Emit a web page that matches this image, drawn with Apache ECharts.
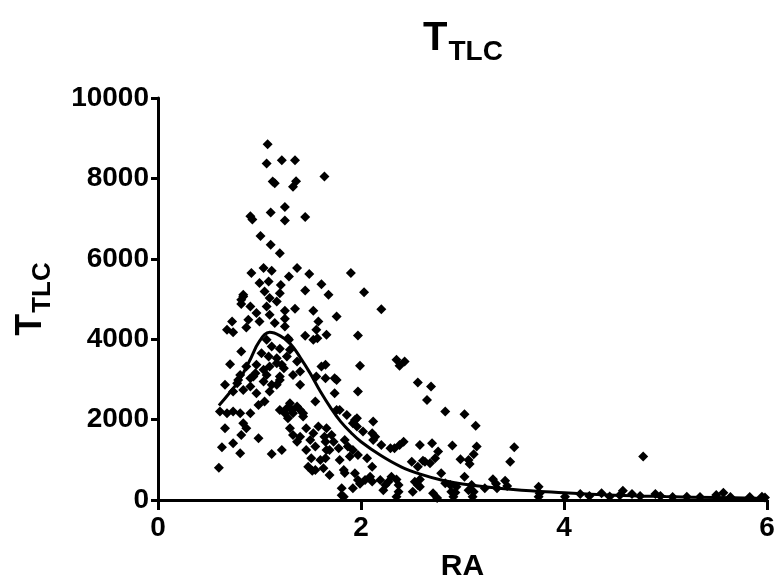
<!DOCTYPE html>
<html><head><meta charset="utf-8">
<script src="https://cdn.jsdelivr.net/npm/echarts@6/dist/echarts.min.js"></script>
<style>html,body{margin:0;padding:0;background:#fff}#c{width:775px;height:583px}</style>
</head><body><div id="c"></div>
<script>
const FONT = "'Liberation Sans Narrow','Liberation Sans',Arial,sans-serif";
const xTicks = [0, 2, 4, 6];
const yTicks = [0, 2000, 4000, 6000, 8000, 10000];
const raValues = [
1.08,1.07,1.22,1.35,1.64,1.13,1.15,1.36,1.33,1.25,0.91,0.93,1.11,1.25,1.45,1.01,1.11,1.20,
0.92,1.04,1.12,1.37,1.49,1.29,1.00,1.09,1.21,1.61,1.05,1.20,1.45,0.84,1.10,1.17,0.82,0.91,1.07,1.35,1.53,0.97,1.10,1.25,0.89,1.00,1.25,1.15,1.58,0.73,0.87,1.25,1.56,0.68,0.74,1.45,1.57,1.66,0.82,1.20,1.27,0.71,1.22,1.65,
1.90,2.03,2.20,1.97,1.76,1.99,2.35,1.68,1.53,1.28,0.84,0.82,
1.07,1.12,1.02,1.09,1.17,1.29,1.30,
0.87,0.97,1.04,1.10,1.17,1.24,1.37,0.81,0.94,1.07,1.20,1.33,1.40,0.78,0.91,1.04,1.17,0.66,0.74,0.84,0.97,1.10,
0.79,0.91,0.96,1.12,1.20,1.40,1.56,
0.61,0.68,0.74,0.81,0.91,0.99,1.05,1.30,1.37,1.25,1.28,1.33,1.40,1.43,1.55,0.66,0.84,0.87,0.99,0.82,0.74,0.63,0.81,1.12,1.22,0.60,1.30,1.33,1.40,1.37,1.46,1.53,1.50,1.55,1.46,1.51,1.60,1.48,1.55,1.63,1.66,1.64,1.58,
1.27,1.32,1.20,1.43,
1.61,1.76,1.74,1.76,1.86,1.94,1.96,2.02,2.12,2.14,2.20,
1.65,1.74,1.97,2.56,2.69,2.65,2.83,1.79,1.96,1.92,2.11,2.12,1.66,1.71,1.65,1.73,1.69,1.78,1.84,1.87,1.92,1.89,1.65,1.79,1.97,2.06,2.11,1.69,1.83,1.94,1.97,2.04,2.09,1.92,2.19,2.24,2.27,2.30,1.81,1.83,2.29,2.33,2.38,2.42,2.58,2.70,2.76,2.73,2.50,2.56,2.63,2.68,2.37,2.37,2.35,2.53,2.56,2.51,2.71,2.83,
2.38,2.43,3.02,3.13,2.90,3.14,3.11,3.51,3.47,2.98,3.06,3.07,2.61,2.79,3.02,3.30,3.42,2.58,2.88,2.89,2.91,2.94,3.09,3.11,3.10,3.22,3.34,3.75,3.76,3.75,4.01,
1.52,1.84,1.99,2.11,2.22,2.35,2.58,2.75,2.93,3.06,3.33,3.44,1.81,
4.78,4.37,4.58,4.90,5.21,5.50,5.57,5.95,4.16,4.55,4.67,4.75,4.95,5.07,5.34,5.64,5.83,5.98,4.25,4.45
];
const ttlcValues = [
8850,8370,8450,8450,8050,7920,7880,7930,7790,7290,7060,6980,7150,6950,7040,6570,6350,6140,
5645,5770,5700,5770,5620,5560,5395,5435,5350,5370,5187,5146,5212,5062,5022,4938,4873,4813,4813,4756,4706,4649,4607,4706,4482,4440,4507,4400,4440,4440,4290,4315,4233,4233,4175,4084,4026,4109,3693,3760,3568,3379,3362,3362,
5645,5170,4748,4091,4564,3337,3486,5104,3984,4026,5104,4980,
3984,3817,3652,3568,3527,3984,3735,
3320,3362,3237,3320,3403,3278,3444,3112,3071,3112,3071,3112,3195,2905,2822,2946,2864,2864,2697,2739,2656,2697,
2988,3030,3154,2864,2988,2864,3071,
2199,2158,2199,2158,2158,2365,2448,2407,2324,2158,2034,2158,2241,2075,2448,1785,1910,1785,1536,1618,1411,1312,1163,1145,1245,804,1785,1618,1576,1452,1785,1660,1494,1328,1245,1038,996,830,747,789,1245,1576,1826,
2283,2241,2241,2158,
3320,2988,2656,2241,2117,1992,1826,1701,1950,1576,1370,
3030,3030,2697,2921,2822,2490,2199,2241,2034,1910,1660,1494,1785,1618,1452,1452,1245,1287,1494,1328,1245,1079,1038,996,1120,1038,830,623,747,664,498,498,581,291,498,374,456,581,291,82,1287,1287,1370,1452,1370,1411,1204,1038,954,830,954,913,374,208,82,456,374,208,166,415,
3337,3444,2133,1850,1353,1328,1138,1312,954,1013,996,896,979,664,581,515,481,332,374,208,82,332,374,208,82,291,291,332,166,82,82,
727,672,403,458,241,510,510,50,187,241,403,349,120,
1079,166,232,149,82,124,182,82,150,120,150,100,100,75,75,75,75,60,100,90
];
const curveRA = [0.6,0.7,0.8,0.9,1.0,1.1,1.2,1.3,1.4,1.5,1.6,1.7,1.8,1.9,2.0,2.2,2.4,2.6,2.8,3.0,3.5,4.0,4.5,5.0,5.5,6.0];
const curveTTLC = [2350,2650,2980,3450,3950,4170,4090,3900,3550,3150,2700,2300,1950,1680,1450,1100,820,630,490,400,260,180,120,85,60,40];

const scatterData = raValues.map((x, i) => [x, ttlcValues[i]]);
const curveData = curveRA.map((x, i) => [x, curveTTLC[i]]);

const chart = echarts.init(document.getElementById('c'), null, {renderer: 'canvas'});
const richName = (big, small) => ({
  a: {fontFamily: FONT, fontWeight: 'bold', fontSize: big, color: '#000', padding: [0, 1, 7, 0], verticalAlign: 'bottom'},
  b: {fontFamily: FONT, fontWeight: 'bold', fontSize: small, color: '#000', verticalAlign: 'bottom'}
});
chart.setOption({
  animation: false,
  backgroundColor: '#fff',
  title: {
    text: '{a|T}{b|TLC}',
    left: 418, top: 14,
    textStyle: {rich: richName(40, 28)}
  },
  grid: {left: 158, right: 8, top: 98, bottom: 83, containLabel: false, outerBoundsMode: 'none'},
  xAxis: {
    type: 'value', min: 0, max: 6, interval: 2,
    name: 'RA', nameLocation: 'middle', nameGap: 52,
    nameTextStyle: {fontFamily: FONT, fontWeight: 'bold', fontSize: 30, color: '#000'},
    axisLine: {show: true, onZero: false, lineStyle: {color: '#000', width: 3}},
    axisTick: {show: true, length: 10, lineStyle: {color: '#000', width: 3}},
    axisLabel: {fontFamily: FONT, fontWeight: 'bold', fontSize: 28, color: '#000', margin: 14,
      formatter: v => xTicks.includes(v) ? String(v) : ''},
    splitLine: {show: false}
  },
  yAxis: {
    type: 'value', min: 0, max: 10000, interval: 2000,
    name: '{a|T}{b|TLC}', nameLocation: 'middle', nameRotate: 90, nameGap: 102,
    nameTextStyle: {rich: richName(36, 26)},
    axisLine: {show: true, onZero: false, lineStyle: {color: '#000', width: 3}},
    axisTick: {show: true, length: 7, lineStyle: {color: '#000', width: 3}},
    axisLabel: {fontFamily: FONT, fontWeight: 'bold', fontSize: 28, color: '#000', margin: 9,
      formatter: v => yTicks.includes(v) ? String(v) : ''},
    splitLine: {show: false}
  },
  series: [
    {type: 'scatter', data: scatterData, symbol: 'diamond', symbolSize: 10,
     itemStyle: {color: '#000', opacity: 1}, clip: false, z: 2},
    {type: 'line', data: curveData, smooth: 0.4, symbol: 'none',
     lineStyle: {color: '#000', width: 3}, z: 3}
  ]
});
</script></body></html>
